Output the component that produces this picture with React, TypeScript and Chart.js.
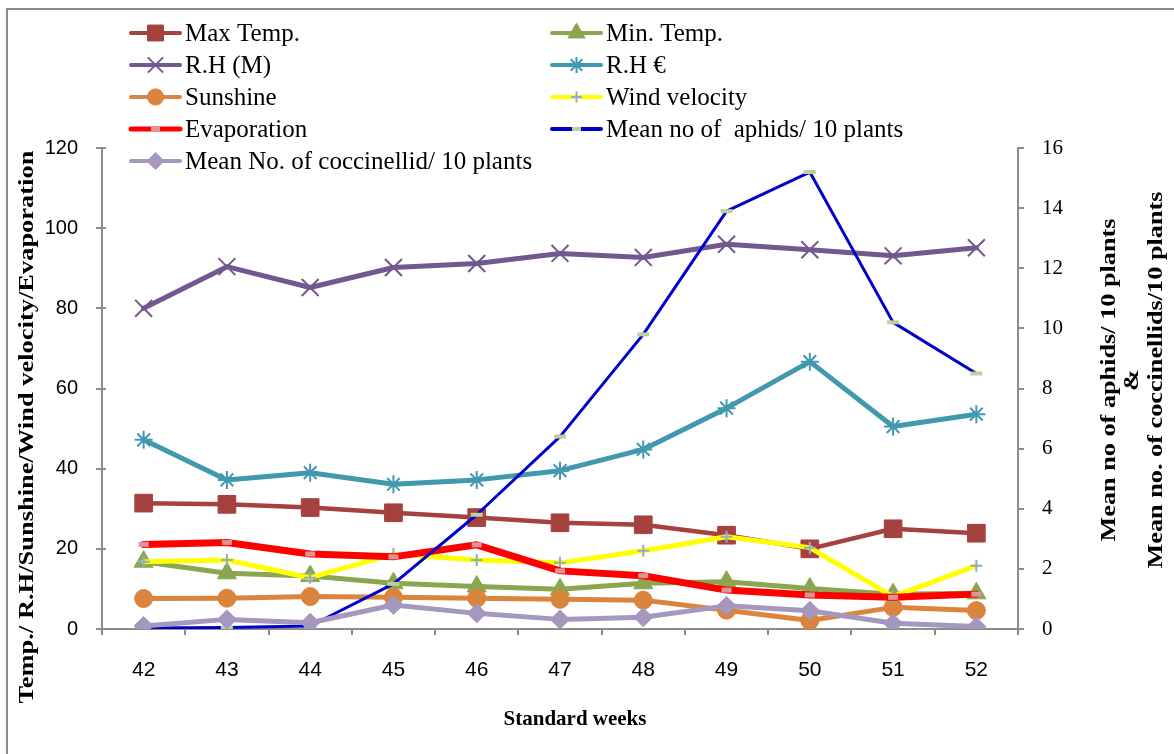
import React, { useEffect, useRef } from 'react';
import { Chart, registerables } from 'chart.js';
import { drawPoint } from 'chart.js/helpers';

Chart.register(...registerables);

const weeks = ['42', '43', '44', '45', '46', '47', '48', '49', '50', '51', '52'];
const maxTemp = [31.4, 31.1, 30.3, 29.0, 27.8, 26.5, 26.0, 23.4, 20.0, 25.0, 23.9];
const minTemp = [16.8, 13.9, 13.2, 11.4, 10.6, 9.9, 11.4, 11.8, 10.1, 8.7, 8.9];
const rhMorning = [80.0, 90.4, 85.2, 90.2, 91.2, 93.7, 92.7, 96.0, 94.6, 93.1, 95.1];
const rhEvening = [47.2, 37.2, 39.0, 36.1, 37.2, 39.5, 44.8, 55.1, 66.7, 50.5, 53.6];
const sunshine = [7.6, 7.7, 8.1, 7.9, 7.7, 7.4, 7.2, 4.7, 2.1, 5.4, 4.6];
const windVelocity = [16.8, 17.2, 12.8, 18.7, 17.2, 16.5, 19.5, 23.0, 20.3, 8.1, 15.8];
const evaporation = [21.1, 21.6, 18.7, 18.0, 21.0, 14.5, 13.3, 9.7, 8.5, 7.9, 8.7];
const aphids = [0.03, 0.05, 0.1, 1.5, 3.8, 6.4, 9.8, 13.9, 15.2, 10.2, 8.5];
const coccinellids = [0.1, 0.32, 0.21, 0.8, 0.52, 0.32, 0.39, 0.77, 0.61, 0.19, 0.08];

const leftTicks = { min: 0, max: 120, step: 20 };
const rightTicks = { min: 0, max: 16, step: 2 };

const leftTitle = 'Temp./ R.H/Sunshine/Wind velocity/Evaporation';
const rightTitle = ['Mean no of aphids/ 10 plants', '&', 'Mean no. of coccinellids/10 plants'];
const bottomTitle = 'Standard weeks';

type S = {
  label: string; data: number[]; color: string; width: number; style: string;
  radius: number; pointColor: string; pbw: number; filled: boolean; axis: string; legendWidth: number;
};

const series: S[] = [
  { label: 'Max Temp.', data: maxTemp, color: '#A5423F', width: 4.5, style: 'rect', radius: 12.5, pointColor: '#A5423F', pbw: 1, filled: true, axis: 'y', legendWidth: 4 },
  { label: 'Min. Temp.', data: minTemp, color: '#8AA64E', width: 5, style: 'triangle', radius: 11, pointColor: '#8AA64E', pbw: 1, filled: true, axis: 'y', legendWidth: 4 },
  { label: 'R.H (M)', data: rhMorning, color: '#71588F', width: 5, style: 'crossRot', radius: 12, pointColor: '#71588F', pbw: 2, filled: false, axis: 'y', legendWidth: 4 },
  { label: 'R.H €', data: rhEvening, color: '#4198AF', width: 5, style: 'star', radius: 9, pointColor: '#4198AF', pbw: 2, filled: false, axis: 'y', legendWidth: 4 },
  { label: 'Sunshine', data: sunshine, color: '#DB843D', width: 5, style: 'circle', radius: 9, pointColor: '#DB843D', pbw: 1, filled: true, axis: 'y', legendWidth: 4 },
  { label: 'Wind velocity', data: windVelocity, color: '#FFFF00', width: 5, style: 'cross', radius: 6, pointColor: '#93A9CF', pbw: 2, filled: false, axis: 'y', legendWidth: 4 },
  { label: 'Evaporation', data: evaporation, color: '#FF0000', width: 7, style: 'line', radius: 5, pointColor: '#D99694', pbw: 5, filled: false, axis: 'y', legendWidth: 5 },
  { label: 'Mean no of  aphids/ 10 plants', data: aphids, color: '#0000CC', width: 3, style: 'line', radius: 6, pointColor: '#BBD09A', pbw: 4, filled: false, axis: 'y1', legendWidth: 4 },
  { label: 'Mean No. of coccinellid/ 10 plants', data: coccinellids, color: '#A597BE', width: 5, style: 'rectRot', radius: 9.5, pointColor: '#A597BE', pbw: 1, filled: true, axis: 'y1', legendWidth: 4 },
];

const serif = '"Liberation Serif", "Times New Roman", serif';
const sans = '"Liberation Sans", Arial, sans-serif';
const axisColor = '#8C8C8C';

const decorPlugin = {
  id: 'decor',
  afterDraw(chart: any) {
    const ctx = chart.ctx as CanvasRenderingContext2D;
    ctx.save();
    // outer frame
    ctx.strokeStyle = '#8C8C8C';
    ctx.lineWidth = 2;
    ctx.strokeRect(7, 9, 1200, 800);

    // inner tick marks on left axis (cross style)
    const ys = chart.scales.y;
    const left = chart.chartArea.left;
    ctx.strokeStyle = axisColor;
    ctx.lineWidth = 2;
    for (let v = leftTicks.min; v <= leftTicks.max; v += leftTicks.step) {
      const py = Math.round(ys.getPixelForValue(v));
      ctx.beginPath();
      ctx.moveTo(left, py);
      ctx.lineTo(left + 4, py);
      ctx.stroke();
    }

    // legend
    ctx.font = `25px ${serif}`;
    ctx.textBaseline = 'middle';
    ctx.textAlign = 'left';
    series.forEach((s, i) => {
      const row = Math.floor(i / 2);
      const col = i % 2;
      const x0 = col === 0 ? 129 : 550;
      const y = 33 + row * 32;
      ctx.strokeStyle = s.color;
      ctx.lineWidth = s.legendWidth;
      ctx.lineCap = 'round';
      ctx.beginPath();
      ctx.moveTo(x0 + 2, y);
      ctx.lineTo(x0 + 51, y);
      ctx.stroke();
      ctx.lineCap = 'butt';
      ctx.fillStyle = s.pointColor;
      ctx.strokeStyle = s.pointColor;
      ctx.lineWidth = s.pbw;
      drawPoint(ctx, { pointStyle: s.style as any, radius: s.style === 'line' ? 4.5 : s.radius * 0.9, borderWidth: s.pbw, rotation: 0 }, x0 + 26.5, y);
      ctx.fillStyle = '#000';
      ctx.fillText(s.label, x0 + 56, y + 1);
    });

    // axis titles
    ctx.fillStyle = '#000';
    ctx.font = `bold 21px ${serif}`;
    ctx.textAlign = 'center';
    ctx.textBaseline = 'middle';
    ctx.fillText(bottomTitle, 575, 720);

    ctx.save();
    ctx.translate(28, 427);
    ctx.rotate(-Math.PI / 2);
    ctx.scale(1.26, 1);
    ctx.fillText(leftTitle, 0, 0);
    ctx.restore();

    const rx = [1110, 1133, 1157];
    rightTitle.forEach((t, i) => {
      ctx.save();
      ctx.translate(rx[i], 380);
      ctx.rotate(-Math.PI / 2);
      ctx.scale(1.25, 1);
      ctx.fillText(t, 0, 0);
      ctx.restore();
    });
    ctx.restore();
  },
};

export default function App() {
  const ref = useRef<HTMLCanvasElement>(null);
  useEffect(() => {
    if (!ref.current) return;
    const n = series.length;
    const chart = new Chart(ref.current, {
      type: 'line',
      data: {
        labels: weeks,
        datasets: series.map((s, i) => ({
          label: s.label,
          data: s.data,
          yAxisID: s.axis,
          borderColor: s.color,
          backgroundColor: s.color,
          borderWidth: s.width,
          borderJoinStyle: 'round' as const,
          borderCapStyle: 'round' as const,
          tension: 0,
          fill: false,
          pointStyle: s.style as any,
          pointRadius: s.radius,
          pointBorderWidth: s.pbw,
          pointBackgroundColor: s.filled ? s.pointColor : 'rgba(0,0,0,0)',
          pointBorderColor: s.pointColor,
          order: n - i,
        })),
      },
      options: {
        responsive: false,
        animation: false,
        events: [],
        layout: { padding: { top: 148, left: 0, right: 0, bottom: 0 } },
        plugins: { legend: { display: false }, tooltip: { enabled: false }, title: { display: false } },
        scales: {
          x: {
            type: 'category',
            offset: true,
            grid: { offset: true, drawOnChartArea: false, drawTicks: true, tickLength: 6, color: axisColor, lineWidth: 2 },
            border: { color: axisColor, width: 2 },
            ticks: { color: '#000', font: { family: sans, size: 21 }, padding: 23, maxRotation: 0 },
            afterFit: (scale: any) => { scale.height = 125; },
          },
          y: {
            type: 'linear',
            position: 'left',
            min: leftTicks.min,
            max: leftTicks.max,
            ticks: { stepSize: leftTicks.step, color: '#000', font: { family: sans, size: 20 }, padding: 18 },
            grid: { drawOnChartArea: false, tickLength: 6, color: axisColor, lineWidth: 2 },
            border: { color: axisColor, width: 2 },
            afterFit: (scale: any) => { scale.width = 102; },
          },
          y1: {
            type: 'linear',
            position: 'right',
            min: rightTicks.min,
            max: rightTicks.max,
            ticks: { stepSize: rightTicks.step, color: '#000', font: { family: serif, size: 21 }, padding: 18 },
            grid: { drawOnChartArea: false, tickLength: 6, color: axisColor, lineWidth: 2 },
            border: { color: axisColor, width: 2 },
            afterFit: (scale: any) => { scale.width = 1174 - 1018; },
          },
        },
      },
      plugins: [decorPlugin],
    });
    return () => chart.destroy();
  }, []);
  return (
    <div style={{ position: 'fixed', left: 0, top: 0, width: 1174, height: 754, background: '#fff' }}>
      <canvas ref={ref} width={1174} height={754} style={{ display: 'block', width: 1174, height: 754 }} />
    </div>
  );
}
